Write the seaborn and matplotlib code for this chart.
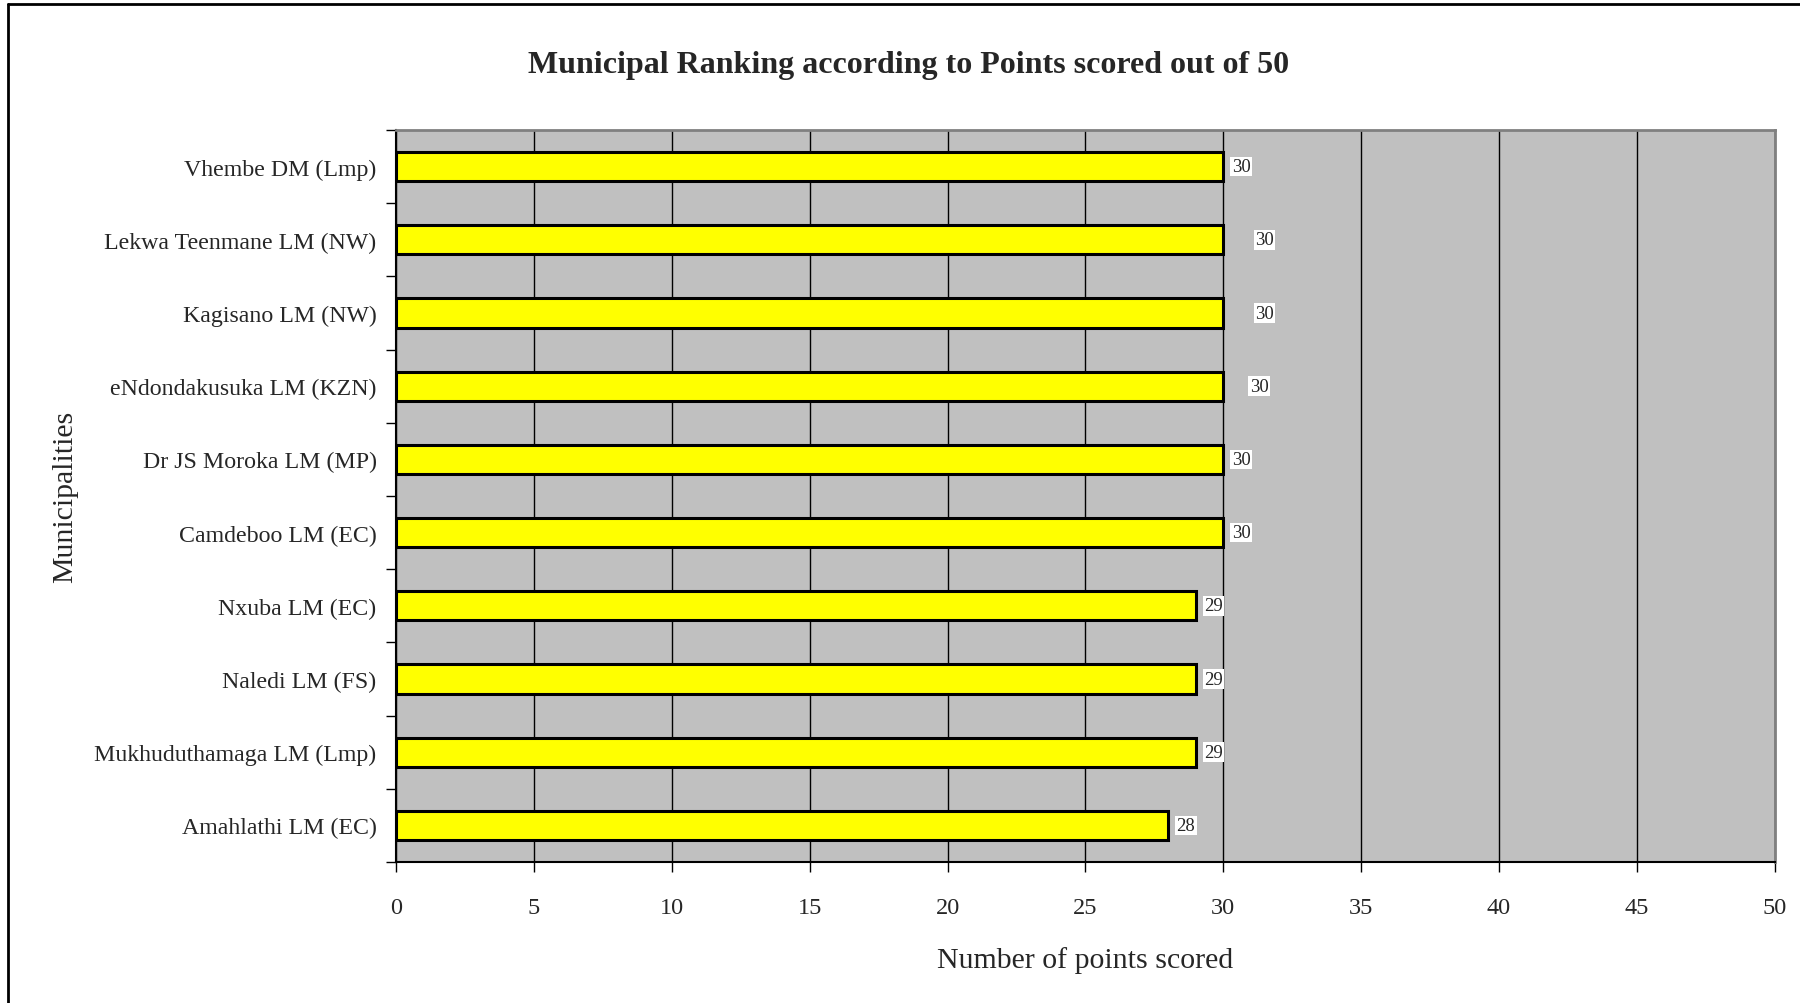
import matplotlib
matplotlib.use("Agg")
import matplotlib.pyplot as plt
import seaborn as sns
import pandas as pd
import numpy as np

municipalities = ["Vhembe DM (Lmp)", "Lekwa Teenmane LM (NW)", "Kagisano LM (NW)",
                  "eNdondakusuka LM (KZN)", "Dr JS Moroka LM (MP)", "Camdeboo LM (EC)",
                  "Nxuba LM (EC)", "Naledi LM (FS)", "Mukhuduthamaga LM (Lmp)",
                  "Amahlathi LM (EC)"]
points = [30, 30, 30, 30, 30, 30, 29, 29, 29, 28]
x_ticks = list(range(0, 55, 5))

dataset = pd.DataFrame({"Municipality": municipalities, "Points": points})

sns.set_style("white")
plt.rcParams["font.family"] = ["Liberation Serif", "DejaVu Serif"]

fig = plt.figure(figsize=(18, 10.04), dpi=100)
ax = fig.add_axes([0.22, 0.1404, 0.766, 0.7291])

sns.barplot(data=dataset, x="Points", y="Municipality", orient="h", color="#FFFF00",
            edgecolor="black", linewidth=2.2, width=0.4, saturation=1, ax=ax)

ax.set_facecolor("#C0C0C0")
ax.set_xlim(0, 50)
ax.set_ylim(9.5, -0.5)
ax.set_xticks(x_ticks)
ax.set_xticklabels([str(t) for t in x_ticks], fontsize=17.5)
ax.tick_params(axis="x", bottom=True, direction="out", length=7, width=1, pad=18, color="black")
ax.tick_params(axis="y", which="major", left=True, length=0, pad=14, labelsize=17.2)
ax.set_yticks(np.arange(-0.5, 10, 1), minor=True)
ax.tick_params(axis="y", which="minor", left=True, direction="out", length=7, width=1, color="black")
ax.xaxis.grid(True, color="black", linewidth=1)
ax.set_axisbelow(True)

for s in ["left", "bottom"]:
    ax.spines[s].set_color("black")
    ax.spines[s].set_linewidth(1.5)
for s in ["top", "right"]:
    ax.spines[s].set_color("#808080")
    ax.spines[s].set_linewidth(2)

# value labels, a few sit further right as in the original
label_offsets = [6, 23, 23, 19, 6, 6, 6, 6, 6, 6]
for i, (v, off) in enumerate(zip(points, label_offsets)):
    ax.annotate(str(v), (v, i), xytext=(off, 0), textcoords="offset points",
                ha="left", va="center", fontsize=13.5,
                bbox=dict(facecolor="white", edgecolor="none", pad=1))

ax.set_xlabel("Number of points scored", fontsize=21.5, labelpad=20)
ax.set_ylabel("Municipalities", fontsize=21.5, labelpad=12)
fig.text(0.505, 0.935, "Municipal Ranking according to Points scored out of 50",
         ha="center", va="center", fontsize=23, fontweight="bold")

# outer chart frame (left and top edges visible)
fig.add_artist(plt.Line2D([0.0047, 0.0047], [0, 0.995], transform=fig.transFigure,
                          color="black", linewidth=2))
fig.add_artist(plt.Line2D([0.0047, 1], [0.995, 0.995], transform=fig.transFigure,
                          color="black", linewidth=2))

fig.savefig("out.png", dpi=100)
